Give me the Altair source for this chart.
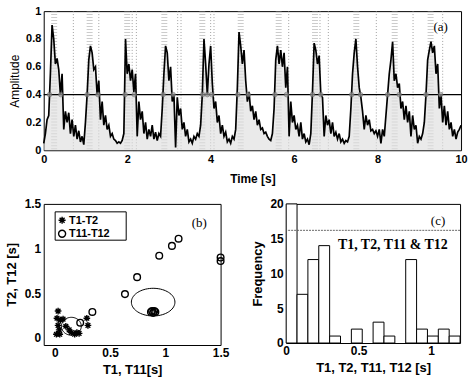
import altair as alt
import numpy as np
import pandas as pd

# ---------------- Panel (a): amplitude envelope ----------------
wave_step = 0.04
wave_amp = [
    0.05, 0.12, 0.22, 0.25, 0.55, 0.90, 0.80, 0.62, 0.66, 0.58, 0.40, 0.55, 0.15, 0.28, 0.20, 0.27, 0.12, 0.22, 0.10, 0.18, 0.08, 0.14, 0.06, 0.10, 0.04,
    0.20, 0.40, 0.65, 0.75, 0.70, 0.58, 0.60, 0.40, 0.50, 0.22, 0.35, 0.18, 0.25, 0.15, 0.18, 0.10, 0.12, 0.08, 0.07, 0.05, 0.06, 0.05, 0.07, 0.12, 0.80,
    0.55, 0.62, 0.50, 0.58, 0.42, 0.55, 0.10, 0.35, 0.22, 0.28, 0.12, 0.20, 0.08, 0.15, 0.10, 0.18, 0.08, 0.13, 0.07, 0.12, 0.10, 0.30, 0.55, 0.75, 0.70,
    0.50, 0.60, 0.35, 0.40, 0.02, 0.38, 0.25, 0.30, 0.15, 0.20, 0.10, 0.15, 0.06, 0.08, 0.05, 0.10, 0.08, 0.12, 0.10, 0.18, 0.40, 0.80, 0.62, 0.40, 0.62,
    0.75, 0.48, 0.30, 0.35, 0.20, 0.25, 0.12, 0.18, 0.10, 0.13, 0.06, 0.08, 0.05, 0.10, 0.08, 0.15, 0.45, 0.85, 0.75, 0.62, 0.72, 0.50, 0.35, 0.42, 0.28,
    0.32, 0.22, 0.28, 0.18, 0.22, 0.15, 0.16, 0.12, 0.13, 0.10, 0.08, 0.07, 0.12, 0.30, 0.65, 0.75, 0.62, 0.72, 0.60, 0.70, 0.45, 0.60, 0.10, 0.35, 0.20,
    0.25, 0.15, 0.18, 0.10, 0.20, 0.08, 0.12, 0.06, 0.08, 0.04, 0.12, 0.42, 0.77, 0.72, 0.62, 0.68, 0.40, 0.38, 0.10, 0.25, 0.18, 0.22, 0.12, 0.20, 0.10,
    0.13, 0.08, 0.12, 0.06, 0.08, 0.05, 0.07, 0.06, 0.10, 0.30, 0.55, 0.70, 0.80, 0.60, 0.45, 0.38, 0.28, 0.15, 0.25, 0.18, 0.22, 0.14, 0.15, 0.12, 0.14,
    0.10, 0.15, 0.05, 0.15, 0.10, 0.25, 0.40, 0.55, 0.65, 0.78, 0.50, 0.55, 0.45, 0.48, 0.30, 0.35, 0.22, 0.32, 0.20, 0.28, 0.10, 0.25, 0.15, 0.18, 0.05,
    0.10, 0.08, 0.12, 0.20, 0.40, 0.65, 0.72, 0.78, 0.70, 0.75, 0.55, 0.62, 0.30, 0.40, 0.20, 0.32, 0.18, 0.28, 0.15, 0.20, 0.10, 0.15, 0.08, 0.13, 0.15,
    0.18,
]
threshold = [0.4]
cross_times = [0.14, 0.41, 1.04, 1.30, 1.95, 2.17, 2.86, 3.10, 3.81, 3.92, 4.03,
               4.65, 4.90, 5.54, 5.82, 6.44, 6.64, 7.38, 7.59, 8.24, 8.52, 9.16, 9.51]
peak_stripes = [0.25, 1.10, 2.00, 2.89, 3.80, 4.72, 5.63, 6.50, 7.49, 8.41, 9.27]
faint_lines = [0.71, 1.32, 2.12, 2.22, 3.21, 3.29, 4.00, 4.08, 5.87, 6.62, 6.82,
               7.97, 8.85, 9.56]

# ---------------- Panel (b): scatter ----------------
t1 = [0.03, 0.02, 0.05, 0.03, 0.04, 0.015, 0.045, 0.075, 0.10, 0.13, 0.15, 0.18, 0.20, 0.22, 0.29, 0.30]
t2 = [0.30, 0.22, 0.20, 0.14, 0.09, 0.04, 0.04, 0.21, 0.13, 0.09, 0.06, 0.04, 0.06, 0.05, 0.22, 0.14]
t11 = [0.34, 0.23, 0.635, 0.745, 0.945, 1.06, 1.12, 1.50, 1.50, 0.87, 0.88, 0.89, 0.90, 0.91]
t12 = [0.29, 0.17, 0.49, 0.68, 0.92, 1.03, 1.11, 0.90, 0.86, 0.29, 0.30, 0.28, 0.30, 0.29]
ellipse_cx = [0.15, 0.89]
ellipse_cy = [0.13, 0.40]
ellipse_rx = [0.09, 0.197]
ellipse_ry = [0.10, 0.155]
legend_labels = ["T1-T2", "T11-T12"]

# ---------------- Panel (c): histogram ----------------
bin_width = 0.075
bin_counts = [25, 7, 12, 14, 1, 0, 2, 0, 3, 1, 0, 12, 2, 1, 2, 1]
hist_limit_line = [16.2]

# ---------------- build tables ----------------
wave_t = np.round(np.arange(len(wave_amp)) * wave_step, 3)
wave_df = pd.DataFrame({"t": wave_t, "amp": wave_amp})
cross_df = pd.DataFrame({"t": cross_times, "amp": threshold * len(cross_times)})
stripe_df = pd.DataFrame({"t": peak_stripes})
faint_df = pd.DataFrame({"t": faint_lines})
thr_df = pd.DataFrame({"amp": threshold})

FONT = "Liberation Sans"
SERIF = "Liberation Serif"

xa = alt.X("t:Q", scale=alt.Scale(domain=[0, 10], nice=False),
           axis=alt.Axis(values=[0, 2, 4, 6, 8, 10], title="Time [s]", labelFlush=False,
                         labelFontSize=11, labelFontWeight="bold", titleFontSize=12,
                         titleFontWeight="bold", labelPadding=3, titlePadding=9))
ya = alt.Y("amp:Q", scale=alt.Scale(domain=[0, 1], nice=False),
           axis=alt.Axis(values=[0, 0.2, 0.4, 0.6, 0.8, 1], title="Amplitude",
                         labelExpr="'' + datum.value", labelFontSize=11, labelFontWeight="bold",
                         titleFontSize=12, titleFontWeight="normal", labelPadding=3, titlePadding=4))

stripes = alt.Chart(stripe_df).mark_rule(color="#9a9a9a", strokeWidth=6, strokeDash=[1, 2], opacity=0.5).encode(x=xa)
faint = alt.Chart(faint_df).mark_rule(color="#8a8a8a", strokeWidth=1, strokeDash=[1, 2], opacity=0.8).encode(x=xa)
area = alt.Chart(wave_df).mark_area(color="#dcdcdc", opacity=0.6).encode(x=xa, y=ya)
line = alt.Chart(wave_df).mark_line(color="black", strokeWidth=1.7).encode(x=xa, y=ya)
thr = alt.Chart(thr_df).mark_rule(color="black", strokeWidth=1.2).encode(y=ya)
cross = alt.Chart(cross_df).mark_point(shape="circle", size=22, filled=True, color="#9a9a9a",
                                       stroke="#666", strokeWidth=0.8).encode(x=xa, y=ya)
lab_a = alt.Chart(pd.DataFrame({"t": [9.51], "amp": [0.886], "s": ["(a)"]})).mark_text(
    font=SERIF, fontSize=13, color="black").encode(x=xa, y=ya, text="s:N")

panel_a = alt.layer(stripes, faint, area, line, thr, cross, lab_a).properties(width=420, height=140)

# panel b
pts = pd.DataFrame({
    "x": t1 + t11,
    "y": t2 + t12,
    "series": [legend_labels[0]] * len(t1) + [legend_labels[1]] * len(t11),
})
ell_rows = []
for k in range(len(ellipse_cx)):
    for i, a in enumerate(np.linspace(0, 2 * np.pi, 73)):
        ell_rows.append({"x": ellipse_cx[k] + ellipse_rx[k] * np.cos(a),
                         "y": ellipse_cy[k] + ellipse_ry[k] * np.sin(a),
                         "g": k, "i": i})
ell_df = pd.DataFrame(ell_rows)

xb = alt.X("x:Q", scale=alt.Scale(domain=[-0.1, 1.5], nice=False),
           axis=alt.Axis(values=[0, 0.5, 1, 1.5], title="T1, T11[s]", labelExpr="'' + datum.value",
                         labelFlush=False, labelFontSize=12, labelFontWeight="bold", titleFontSize=13,
                         labelPadding=3, titlePadding=5))
yb = alt.Y("y:Q", scale=alt.Scale(domain=[-0.08, 1.5], nice=False),
           axis=alt.Axis(values=[0, 0.5, 1, 1.5], title="T2, T12 [s]", labelExpr="'' + datum.value",
                         labelFontSize=12, labelFontWeight="bold", titleFontSize=13,
                         labelPadding=3, titlePadding=6))

asterisk = "M0,-1L0,1M-1,0L1,0M-0.7,-0.7L0.7,0.7M-0.7,0.7L0.7,-0.7"
shape_scale = alt.Scale(domain=legend_labels, range=[asterisk, "circle"])
scatter = alt.Chart(pts).mark_point(filled=False, color="black", strokeWidth=1.4, size=45, opacity=1).encode(
    x=xb, y=yb,
    shape=alt.Shape("series:N", scale=shape_scale, legend=None),
)
ellipses = alt.Chart(ell_df).mark_line(color="black", strokeWidth=1).encode(
    x=xb, y=yb, detail="g:N", order="i:Q")
lab_b = alt.Chart(pd.DataFrame({"x": [1.307], "y": [1.287], "s": ["(b)"]})).mark_text(
    font=SERIF, fontSize=13, color="black").encode(x=xb, y=yb, text="s:N")

# hand-drawn legend box inside panel b (pixel positions in the plot area)
leg_df = pd.DataFrame({"series": legend_labels})
leg_box = alt.Chart(leg_df.head(1)).mark_rect(fill="white", stroke="black", strokeWidth=1).encode(
    x=alt.value(11.5), x2=alt.value(83), y=alt.value(8), y2=alt.value(36.5))
leg_layers = [leg_box]
for row, ypix in enumerate([16.5, 30]):
    sub = leg_df.iloc[[row]]
    leg_layers.append(alt.Chart(sub).mark_point(
        filled=False, color="black", strokeWidth=1.4, size=50, opacity=1,
        shape=(asterisk if row == 0 else "circle")).encode(x=alt.value(18.5), y=alt.value(ypix)))
    leg_layers.append(alt.Chart(sub).mark_text(
        align="left", baseline="middle", font=FONT, fontSize=11, fontWeight="bold",
        color="black").encode(x=alt.value(25.5), y=alt.value(ypix + 0.5), text="series:N"))
panel_b = alt.layer(ellipses, scatter, lab_b, *leg_layers).properties(width=178, height=142)

# panel c
hist_df = pd.DataFrame({
    "lo": [i * bin_width for i in range(len(bin_counts))],
    "hi": [(i + 1) * bin_width for i in range(len(bin_counts))],
    "n": bin_counts,
})
hist_df = hist_df[hist_df["n"] > 0]
xc = alt.X("lo:Q", scale=alt.Scale(domain=[0, 1.2], nice=False),
           axis=alt.Axis(values=[0, 0.5, 1], title="T1, T2, T11, T12 [s]", labelExpr="'' + datum.value",
                         labelFlush=False, labelFontSize=12, labelFontWeight="bold", titleFontSize=13,
                         labelPadding=3, titlePadding=5))
yc = alt.Y("n:Q", scale=alt.Scale(domain=[0, 20], nice=False, clamp=True),
           axis=alt.Axis(values=[0, 5, 10, 15, 20], title="Frequency",
                         labelFontSize=12, labelFontWeight="bold", titleFontSize=13,
                         labelPadding=3, titlePadding=5))
bars = alt.Chart(hist_df).mark_rect(fill="white", stroke="black", strokeWidth=1).encode(
    x=xc, x2="hi:Q", y=yc, y2=alt.datum(0))
limit = alt.Chart(pd.DataFrame({"n": hist_limit_line})).mark_rule(
    color="#555", strokeWidth=0.9, strokeDash=[2, 1]).encode(y=yc)
lab_c1 = alt.Chart(pd.DataFrame({"lo": [1.048], "n": [17.5], "s": ["(c)"]})).mark_text(
    font=SERIF, fontSize=13, color="black").encode(x=xc, y=yc, text="s:N")
lab_c2 = alt.Chart(pd.DataFrame({"lo": [0.736], "n": [14.1], "s": ["T1, T2, T11 & T12"]})).mark_text(
    font=SERIF, fontSize=14, fontWeight="bold", color="black").encode(x=xc, y=yc, text="s:N")
panel_c = alt.layer(bars, limit, lab_c1, lab_c2).properties(width=175, height=140)

chart = alt.vconcat(
    panel_a,
    alt.hconcat(panel_b, panel_c, spacing=22),
    spacing=12,
).properties(
    padding={"left": 4, "top": 3, "right": 0, "bottom": 0},
).configure_view(
    stroke="black", strokeWidth=1,
).configure_axis(
    labelFont=FONT, titleFont=FONT, grid=False, ticks=False, domain=False,
    labelColor="black", titleColor="black",
)

chart.save("out.html", embed_options={"renderer": "svg", "actions": False})
